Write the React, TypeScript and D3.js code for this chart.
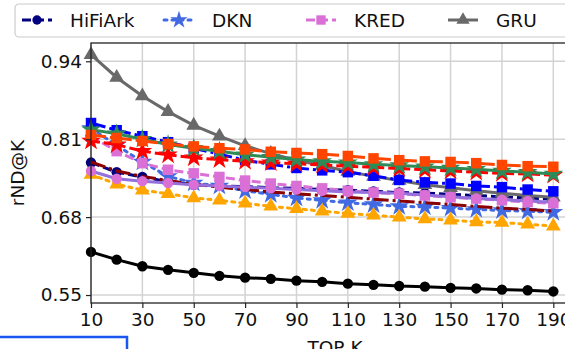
import * as d3 from 'd3';
import React, { useEffect, useRef } from 'react';

const topK = [10, 20, 30, 40, 50, 60, 70, 80, 90, 100, 110, 120, 130, 140, 150, 160, 170, 180, 190];
const xTicks = [10, 30, 50, 70, 90, 110, 130, 150, 170, 190];
const yTicks = [0.55, 0.68, 0.81, 0.94];

const hifiark = [0.771, 0.755, 0.747, 0.739, 0.734, 0.732, 0.731, 0.729, 0.728, 0.726, 0.725, 0.723, 0.721, 0.72, 0.718, 0.716, 0.714, 0.712, 0.71];
const dkn = [0.828, 0.8, 0.772, 0.748, 0.737, 0.732, 0.724, 0.718, 0.712, 0.708, 0.704, 0.701, 0.698, 0.697, 0.695, 0.693, 0.691, 0.69, 0.688];
const kred = [0.815, 0.79, 0.77, 0.759, 0.753, 0.747, 0.741, 0.736, 0.732, 0.728, 0.724, 0.721, 0.719, 0.716, 0.713, 0.711, 0.708, 0.705, 0.703];
const gru = [0.951, 0.913, 0.882, 0.856, 0.833, 0.815, 0.799, 0.786, 0.775, 0.766, 0.756, 0.748, 0.741, 0.734, 0.729, 0.724, 0.72, 0.716, 0.713];
const darkred = [0.772, 0.757, 0.748, 0.741, 0.735, 0.73, 0.726, 0.722, 0.719, 0.716, 0.713, 0.71, 0.707, 0.704, 0.701, 0.698, 0.695, 0.693, 0.69];
const orange = [0.751, 0.735, 0.725, 0.719, 0.712, 0.708, 0.703, 0.698, 0.694, 0.69, 0.686, 0.683, 0.68, 0.677, 0.675, 0.672, 0.671, 0.668, 0.665];
const purple = [0.757, 0.744, 0.74, 0.737, 0.734, 0.732, 0.73, 0.728, 0.726, 0.724, 0.722, 0.721, 0.72, 0.717, 0.714, 0.711, 0.709, 0.707, 0.705];
const black = [0.622, 0.609, 0.598, 0.592, 0.587, 0.582, 0.579, 0.577, 0.574, 0.572, 0.569, 0.567, 0.565, 0.564, 0.562, 0.561, 0.559, 0.558, 0.556];
const blue = [0.837, 0.825, 0.815, 0.805, 0.795, 0.785, 0.775, 0.768, 0.762, 0.758, 0.755, 0.749, 0.742, 0.738, 0.736, 0.732, 0.73, 0.726, 0.723];
const red = [0.807, 0.801, 0.79, 0.784, 0.779, 0.776, 0.773, 0.771, 0.769, 0.767, 0.765, 0.763, 0.761, 0.759, 0.757, 0.755, 0.753, 0.752, 0.75];
const green = [0.826, 0.819, 0.81, 0.801, 0.795, 0.79, 0.784, 0.78, 0.776, 0.773, 0.771, 0.768, 0.766, 0.764, 0.762, 0.76, 0.757, 0.755, 0.752];
const orangered = [0.817, 0.812, 0.807, 0.802, 0.798, 0.795, 0.793, 0.789, 0.787, 0.785, 0.782, 0.778, 0.775, 0.773, 0.772, 0.77, 0.767, 0.765, 0.764];

const DASH = '9,4';
const DOT = '3,5';
const DASHDOT = '15,4,3,4';

const series = [
    { name: 'HiFiArk', values: hifiark, color: 'navy', dash: DASH, shape: d3.symbolCircle, size: 85 },
    { name: 'DKN', values: dkn, color: 'royalblue', dash: DOT, shape: d3.symbolStar, size: 120 },
    { name: 'KRED', values: kred, color: 'orchid', dash: DASH, shape: d3.symbolSquare, size: 110 },
    { name: 'GRU', values: gru, color: 'dimgray', dash: null, shape: d3.symbolTriangle, size: 95 },
    { name: 'S5', values: darkred, color: 'darkred', dash: DASHDOT, shape: null, size: 0 },
    { name: 'S6', values: orange, color: 'orange', dash: DOT, shape: d3.symbolTriangle, size: 95 },
    { name: 'S7', values: purple, color: 'mediumpurple', dash: null, shape: d3.symbolCircle, size: 85, mcolor: 'orchid' },
    { name: 'S8', values: black, color: 'black', dash: null, shape: d3.symbolCircle, size: 85 },
    { name: 'S9', values: blue, color: 'blue', dash: DASHDOT, shape: d3.symbolSquare, size: 110 },
    { name: 'S10', values: red, color: 'red', dash: DASH, shape: d3.symbolStar, size: 120 },
    { name: 'S11', values: green, color: 'seagreen', dash: null, shape: d3.symbolStar, size: 120 },
    { name: 'S12', values: orangered, color: 'orangered', dash: DASHDOT, shape: d3.symbolSquare, size: 110 },
];

const W = 565, H = 349;
const left = 91, right = 579, top = 43, bottom = 303;
const FONT = 'DejaVu Sans, sans-serif';
const LW = 3;

export default () => {
    const ref = useRef<any>();

    useEffect(() => {
        const svg = d3.select<any, any>(ref.current);
        svg.selectAll('*').remove();

        const x = d3.scaleLinear().domain([10, 200]).range([left, right]);
        const y = d3.scaleLinear().domain([0.5367, 0.9705]).range([bottom, top]);

        // grid
        const grid = svg.append('g').attr('stroke', '#d3d3d3').attr('stroke-width', 1.5);
        xTicks.forEach(t => grid.append('line').attr('x1', x(t)).attr('x2', x(t)).attr('y1', top).attr('y2', bottom));
        yTicks.forEach(t => grid.append('line').attr('x1', left).attr('x2', right).attr('y1', y(t)).attr('y2', y(t)));

        // lines + markers
        const plot = svg.append('g');
        series.forEach(s => {
            const line = d3.line<number>().x((d, i) => x(topK[i])).y(d => y(d));
            plot.append('path')
                .attr('d', line(s.values))
                .attr('fill', 'none')
                .attr('stroke', s.color)
                .attr('stroke-width', LW)
                .attr('stroke-dasharray', s.dash)
                .attr('stroke-linecap', s.dash === DOT ? 'round' : 'butt');
            if (s.shape) {
                const sym = d3.symbol().type(s.shape).size(s.size);
                plot.selectAll(null)
                    .data(s.values)
                    .join('path')
                    .attr('d', sym() as string)
                    .attr('transform', (d, i) => `translate(${x(topK[i])},${y(d)})`)
                    .attr('fill', (s as any).mcolor || s.color);
            }
        });

        // spines
        svg.append('rect').attr('x', left).attr('y', top).attr('width', right - left).attr('height', bottom - top)
            .attr('fill', 'none').attr('stroke', '#222').attr('stroke-width', 1.3);

        // axes
        const xAxis = d3.axisBottom(x).tickValues(xTicks).tickSize(5).tickPadding(5).tickFormat(d3.format('d'));
        const gx = svg.append('g').attr('transform', `translate(0,${bottom})`).call(xAxis);
        const yAxis = d3.axisLeft(y).tickValues(yTicks).tickSize(5).tickPadding(4).tickFormat(d3.format('.2f'));
        const gy = svg.append('g').attr('transform', `translate(${left},0)`).call(yAxis);
        [gx, gy].forEach(g => {
            g.select('.domain').remove();
            g.selectAll('line').attr('stroke', '#222').attr('stroke-width', 1.2);
            g.selectAll('text').attr('fill', '#111').attr('font-size', 18.5).attr('font-family', FONT);
        });

        svg.append('text').attr('x', 335).attr('y', 354).attr('text-anchor', 'middle')
            .attr('font-size', 18.5).attr('font-family', FONT).attr('fill', '#111').text('TOP K');
        svg.append('text').attr('transform', `translate(24,${(top + bottom) / 2}) rotate(-90)`)
            .attr('text-anchor', 'middle').attr('font-size', 18.5).attr('font-family', FONT).attr('fill', '#111').text('rND@K');

        // legend
        const lg = svg.append('g');
        lg.append('rect').attr('x', 15).attr('y', 4).attr('width', 600).attr('height', 33).attr('rx', 4)
            .attr('fill', 'white').attr('fill-opacity', 0.9).attr('stroke', '#ccc').attr('stroke-width', 1.2);
        series.slice(0, 4).forEach((s, i) => {
            const lx = 22 + i * 142;
            const g = lg.append('g').attr('transform', `translate(${lx},20)`);
            g.append('line').attr('x1', 0).attr('x2', 30).attr('y1', 0).attr('y2', 0)
                .attr('stroke', s.color).attr('stroke-width', LW).attr('stroke-dasharray', s.dash)
                .attr('stroke-linecap', s.dash === DOT ? 'round' : 'butt');
            if (s.shape) g.append('path').attr('d', d3.symbol().type(s.shape).size(s.size * 0.8)() as string)
                .attr('transform', 'translate(15,0)').attr('fill', s.color);
            g.append('text').attr('x', 48).attr('y', 7).attr('font-size', 18.5).attr('font-family', FONT)
                .attr('fill', '#111').text(s.name);
        });

        // neighbouring frame cut at the lower left
        svg.append('rect').attr('x', -5).attr('y', 337).attr('width', 132).attr('height', 40)
            .attr('fill', 'none').attr('stroke', '#1a56f0').attr('stroke-width', 2.5);
    });

    return (
        <svg ref={ref} width={W} height={H} style={{ position: 'absolute', left: 0, top: 0, background: 'white' }} />
    );
}
